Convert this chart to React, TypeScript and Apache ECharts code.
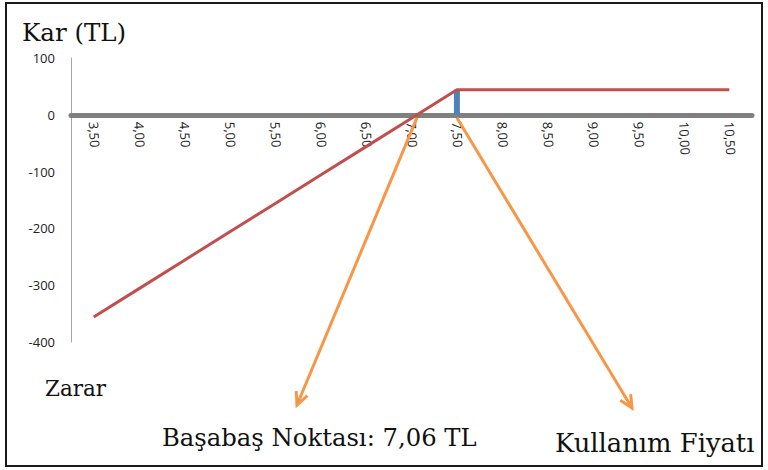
import React, { useEffect, useRef } from "react";
import * as echarts from "echarts";

const prices = ["3,50", "4,00", "4,50", "5,00", "5,50", "6,00", "6,50", "7,00", "7,50", "8,00", "8,50", "9,00", "9,50", "10,00", "10,50"];
const profit = [-356, -306, -256, -206, -156, -106, -56, -6, 44, 44, 44, 44, 44, 44, 44];
const strikeBar = [null, null, null, null, null, null, null, null, 44, null, null, null, null, null, null];
const yTicks = { min: -400, max: 100, interval: 100 };
const breakEvenIndex = 7.12; // 7,06 TL between 7,00 and 7,50
const strikeIndex = 8;

export default function App() {
  const ref = useRef<HTMLDivElement>(null);
  useEffect(() => {
    const chart = echarts.init(ref.current!, undefined, { renderer: "svg" });
    const option: any = {
      animation: false,
      backgroundColor: "#ffffff",
      grid: { left: 71, right: 16, top: 58, bottom: 128 },
      xAxis: {
        type: "category",
        data: prices,
        boundaryGap: true,
        position: "bottom",
        offset: 0,
        axisLine: { onZero: false, lineStyle: { color: "#808080", width: 5 } },
        axisTick: { show: false },
        axisLabel: { rotate: -87, color: "#222", fontFamily: "Open Sans", fontSize: 13, margin: 7 },
        splitLine: { show: false },
      },
      yAxis: {
        type: "value",
        min: yTicks.min,
        max: yTicks.max,
        interval: yTicks.interval,
        axisLine: { show: true, lineStyle: { color: "#a6a6a6", width: 1 } },
        axisTick: { show: false },
        splitLine: { show: false },
        axisLabel: { color: "#222", fontFamily: "Open Sans", fontSize: 13, margin: 16 },
      },
      series: [
        {
          type: "bar",
          data: strikeBar,
          barWidth: 6,
          itemStyle: { color: "#4F81BD" },
          z: 3,
        },
        {
          type: "line",
          data: profit,
          symbol: "none",
          lineStyle: { color: "#C0504D", width: 3 },
          z: 4,
        },
      ],
    };
    chart.setOption(option);

    const zeroY = (chart.convertToPixel({ yAxisIndex: 0 }, 0) as number);
    const bottomY = (chart.convertToPixel({ yAxisIndex: 0 }, yTicks.min) as number);
    chart.setOption({ xAxis: { offset: -(bottomY - zeroY) } });

    const p7 = chart.convertToPixel({ xAxisIndex: 0, yAxisIndex: 0 }, [7, 0]) as number[];
    const p8 = chart.convertToPixel({ xAxisIndex: 0, yAxisIndex: 0 }, [8, 0]) as number[];
    const bx = p7[0] + (p8[0] - p7[0]) * (breakEvenIndex - 7);
    const sx = p7[0] + (p8[0] - p7[0]) * (strikeIndex - 7);
    const y0 = p7[1] + 3;

    const orange = "#F79646";
    const arrow = (x1: number, y1: number, x2: number, y2: number) => {
      const ang = Math.atan2(y2 - y1, x2 - x1);
      const len = 14;
      const a1 = ang + Math.PI - 0.45;
      const a2 = ang + Math.PI + 0.45;
      return [
        { type: "line", shape: { x1, y1, x2, y2 }, style: { stroke: orange, lineWidth: 3 }, z: 10 },
        {
          type: "polyline",
          shape: {
            points: [
              [x2 + len * Math.cos(a1), y2 + len * Math.sin(a1)],
              [x2, y2],
              [x2 + len * Math.cos(a2), y2 + len * Math.sin(a2)],
            ],
          },
          style: { stroke: orange, lineWidth: 3, fill: "none" },
          z: 10,
        },
      ];
    };

    const serif = "DejaVu Serif";
    const txt = (text: string, x: number, y: number, size: number) => ({
      type: "text",
      x,
      y,
      style: { text, font: `${size}px '${serif}'`, fill: "#111", verticalAlign: "middle", textVerticalAlign: "middle" },
      z: 15,
    });
    chart.setOption({
      graphic: [
        { type: "rect", shape: { x: 6, y: 3, width: 756, height: 463 }, style: { fill: "none", stroke: "#1a1a1a", lineWidth: 2 }, z: 20 },
        txt("Kar (TL)", 22, 32, 24.5),
        txt("Zarar", 45, 388, 21.5),
        txt("Başabaş Noktası: 7,06 TL", 162, 437, 24.3),
        txt("Kullanım Fiyatı", 555, 443, 25.8),
        ...arrow(bx, y0, 297, 405),
        ...arrow(sx, y0, 632, 408),
      ],
    });
    return () => chart.dispose();
  }, []);
  return <div ref={ref} style={{ position: "fixed", left: 0, top: 0, width: 768, height: 470 }} />;
}
